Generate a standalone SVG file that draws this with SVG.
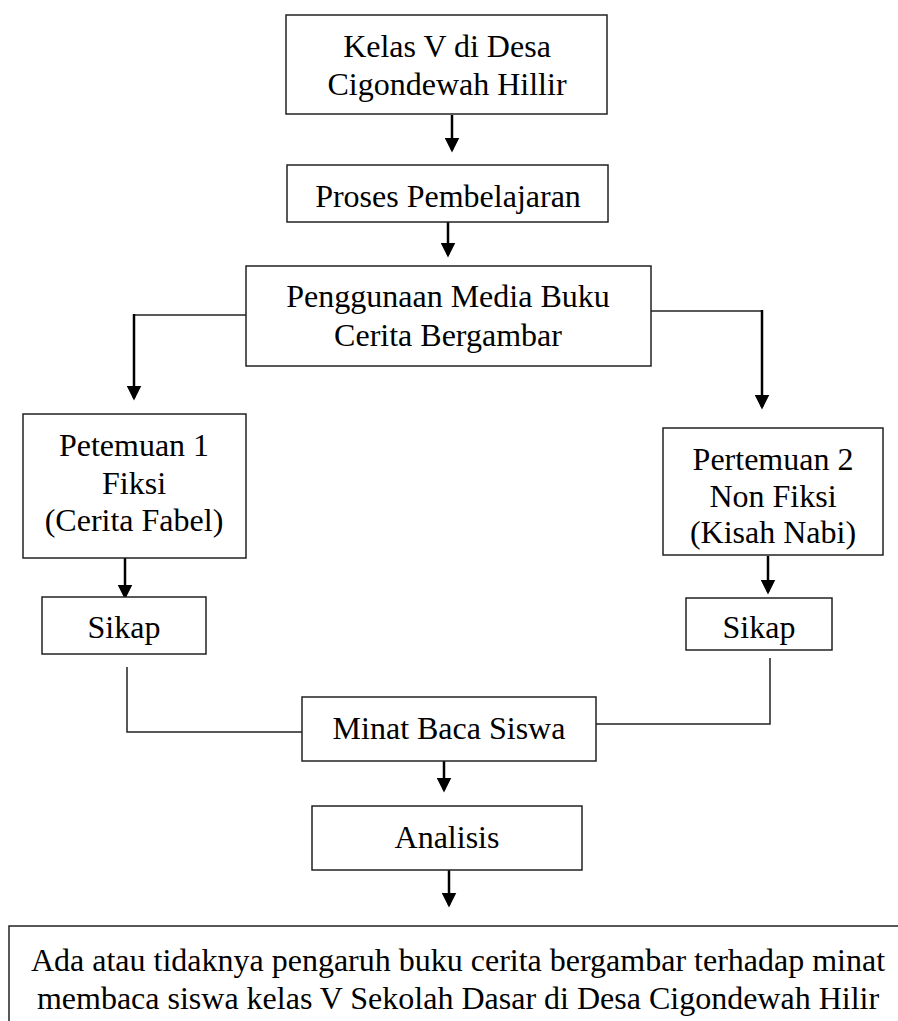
<svg xmlns="http://www.w3.org/2000/svg" width="898" height="1021" viewBox="0 0 898 1021">
<style>
.box{fill:#fff;stroke:#222;stroke-width:1.5}
.t{font-size:32px;fill:#000;text-anchor:middle}
.ln{fill:none;stroke:#222;stroke-width:1.5}
.ar{fill:none;stroke:#000;stroke-width:2.5}
</style>
<defs>
<marker id="ah" markerWidth="6" markerHeight="6" refX="5" refY="3" orient="auto" markerUnits="strokeWidth">
<path d="M0,0 L6,3 L0,6 Z" fill="#000"/>
</marker>
</defs>
<rect width="898" height="1021" fill="#fff"/>
<g id="connectors">
<path class="ar" d="M452,115 V150" marker-end="url(#ah)"/>
<path class="ar" d="M448,222 V255" marker-end="url(#ah)"/>
<path class="ln" d="M246,315 H134"/>
<path class="ar" d="M134,314 V398" marker-end="url(#ah)"/>
<path class="ln" d="M651,311 H762"/>
<path class="ar" d="M762,310 V407" marker-end="url(#ah)"/>
<path class="ar" d="M125,558 V597" marker-end="url(#ah)"/>
<path class="ar" d="M768,556 V592" marker-end="url(#ah)"/>
<path class="ln" d="M127,667 V732 H302"/>
<path class="ln" d="M596,724 H770 V658"/>
<path class="ar" d="M444,761 V790" marker-end="url(#ah)"/>
<path class="ar" d="M449,870 V905" marker-end="url(#ah)"/>
</g>
<g font-family="'Liberation Serif', 'Times New Roman', Times, serif">
<g id="n1"><rect class="box" x="286" y="15" width="321" height="99"/>
<text class="t" x="447" y="57">Kelas V di Desa</text><text class="t" x="447" y="95">Cigondewah Hillir</text></g>
<g id="n2"><rect class="box" x="287" y="165" width="321" height="57"/>
<text class="t" x="448" y="207">Proses Pembelajaran</text></g>
<g id="n3"><rect class="box" x="246" y="266" width="405" height="100"/>
<text class="t" x="448" y="307">Penggunaan Media Buku</text><text class="t" x="448" y="346">Cerita Bergambar</text></g>
<g id="n4"><rect class="box" x="23" y="414" width="223" height="144"/>
<text class="t" x="134" y="456">Petemuan 1</text><text class="t" x="134" y="494">Fiksi</text><text class="t" x="134" y="531">(Cerita Fabel)</text></g>
<g id="n5"><rect class="box" x="663" y="428" width="220" height="127"/>
<text class="t" x="773" y="470">Pertemuan 2</text><text class="t" x="773" y="507">Non Fiksi</text><text class="t" x="773" y="543">(Kisah Nabi)</text></g>
<g id="n6"><rect class="box" x="42" y="597" width="164" height="57"/>
<text class="t" x="124" y="638">Sikap</text></g>
<g id="n7"><rect class="box" x="686" y="598" width="146" height="52"/>
<text class="t" x="759" y="638">Sikap</text></g>
<g id="n8"><rect class="box" x="302" y="697" width="294" height="64"/>
<text class="t" x="449" y="739">Minat Baca Siswa</text></g>
<g id="n9"><rect class="box" x="312" y="806" width="270" height="64"/>
<text class="t" x="447" y="848">Analisis</text></g>
<g id="n10"><rect class="box" x="9" y="926" width="900" height="110"/>
<text class="t" x="458" y="971">Ada atau tidaknya pengaruh buku cerita bergambar terhadap minat</text>
<text class="t" x="458" y="1009">membaca siswa kelas V Sekolah Dasar di Desa Cigondewah Hilir</text></g>
</g>
</svg>
